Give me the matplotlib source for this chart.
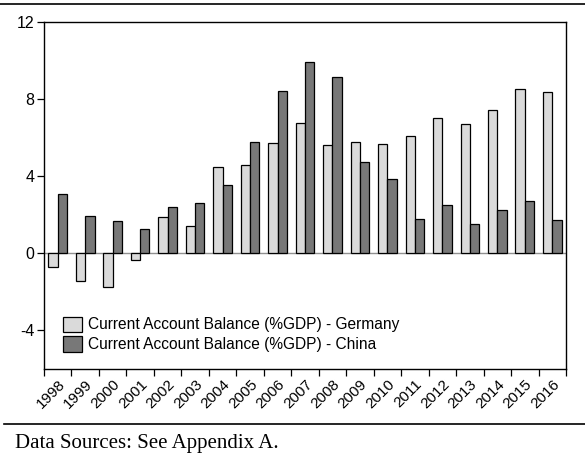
import numpy as np
import matplotlib
matplotlib.use("Agg")
import matplotlib.pyplot as plt
from matplotlib.lines import Line2D
from matplotlib.patches import Patch

years = [str(y) for y in range(1998, 2017)]
germany = [-0.69, -1.44, -1.75, -0.36, 1.90, 1.44, 4.47, 4.60, 5.70, 6.77,
           5.63, 5.80, 5.65, 6.08, 7.03, 6.72, 7.45, 8.55, 8.35]
china = [3.06, 1.92, 1.70, 1.28, 2.39, 2.60, 3.52, 5.78, 8.43, 9.94,
         9.16, 4.76, 3.88, 1.78, 2.49, 1.54, 2.25, 2.74, 1.75]
labels = ["Current Account Balance (%GDP) - Germany",
          "Current Account Balance (%GDP) - China"]
source = "Data Sources: See Appendix A."

plt.rcParams["font.family"] = ["Liberation Sans", "DejaVu Sans"]
plt.rcParams["axes.unicode_minus"] = False

fig = plt.figure(figsize=(5.85, 4.54), dpi=100)
ax = fig.add_axes([44 / 585, 85 / 454, 522 / 585, 347 / 454])

x = np.arange(len(years))
w = 0.34
light = "#dadada"
dark = "#787878"
ax.bar(x - w / 2, germany, w, color=light, edgecolor="black", linewidth=0.9)
ax.bar(x + w / 2, china, w, color=dark, edgecolor="black", linewidth=0.9)
ax.axhline(0, color="#909090", linewidth=1, zorder=0.5)

ax.set_xlim(-0.5, len(years) - 0.5)
ax.set_ylim(-6, 12)
ax.set_yticks([-4, 0, 4, 8, 12])
ax.tick_params(axis="y", direction="out", length=5, width=0.9, labelsize=11.5, pad=2)

# ticks at category edges, labels at centers
ax.set_xticks(np.arange(len(years) + 1) - 0.5)
ax.set_xticklabels([])
ax.tick_params(axis="x", which="major", direction="out", length=5, width=0.9)
ax.set_xticks(x, minor=True)
ax.set_xticklabels(years, minor=True, rotation=45, ha="right",
                   rotation_mode="anchor", fontsize=11)
ax.tick_params(axis="x", which="minor", length=0, pad=6)

for s in ax.spines.values():
    s.set_linewidth(1)

handles = [Patch(facecolor=light, edgecolor="black", linewidth=0.9),
           Patch(facecolor=dark, edgecolor="black", linewidth=0.9)]
ax.legend(handles, labels, loc="lower left", bbox_to_anchor=(0.025, 0.03),
          frameon=False, fontsize=11.2, handlelength=1.2, handleheight=1.15,
          handletextpad=0.4, labelspacing=0.25, borderaxespad=0)

fig.add_artist(Line2D([0, 1], [1 - 4 / 454] * 2, color="black", linewidth=1.2))
fig.add_artist(Line2D([4 / 585, 1], [1 - 424 / 454] * 2, color="black", linewidth=1.2))
fig.text(15 / 585, 1 - 448 / 454, source, family="Liberation Serif",
         fontsize=15, va="baseline", ha="left")

fig.savefig("out.png", dpi=100)
